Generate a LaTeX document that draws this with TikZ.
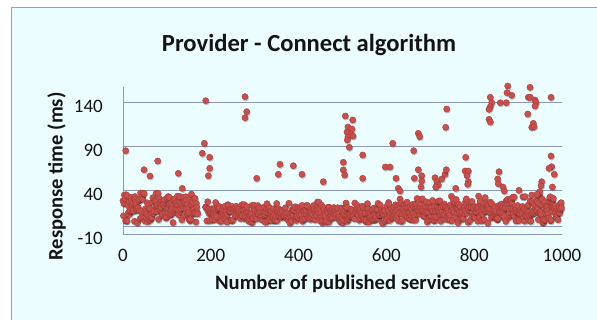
\documentclass[tikz,border=0pt]{standalone}
\usepackage{fontspec}
\setmainfont{Carlito}
\definecolor{panelc}{RGB}{236,253,255}
\definecolor{framec}{RGB}{150,160,180}
\definecolor{gridc}{RGB}{140,152,182}
\definecolor{dotfill}{RGB}{198,80,76}
\definecolor{dotedge}{RGB}{170,60,58}
\definecolor{textc}{RGB}{20,20,20}
\tikzset{
  dotmark/.style={fill=dotfill,draw=dotedge,line width=0.4pt},
  dotshadow/.style={fill=black,opacity=0.22},
  gridline/.style={draw=gridc,line width=1pt},
  ticklab/.style={font=\fontsize{19}{20}\selectfont,text=textc,inner sep=0pt},
  axtitle/.style={font=\fontsize{20.6}{22}\selectfont\bfseries,text=textc,inner sep=0pt},
}
\newcommand{\mydot}[2]{\fill[dotshadow] (#1+0.7,#2+1.3) circle (3.3pt);\filldraw[dotmark] (#1,#2) circle (3.1pt);}
\begin{document}
\begin{tikzpicture}[x=1pt,y=-1pt]
\useasboundingbox (0,0) rectangle (597,320);
\fill[white] (0,0) rectangle (597,320);
\fill[panelc] (11,7) rectangle (600,323);
\draw[framec,line width=1.5pt] (11.5,330) -- (11.5,7.5) -- (600,7.5);
% title
\node[font=\fontsize{24.6}{26}\selectfont\bfseries,text=textc,anchor=base,inner sep=0pt] (title) at (309,52) {Provider - Connect algorithm};
% grid
\foreach \g in {103,147,191,235}{\draw[gridline] (123,\g) -- (562,\g);}
\draw[gridline] (123,87) -- (123,235);
\draw[gridline] (123,226.2) -- (562,226.2);
% y tick labels
\node[ticklab,anchor=east] (y140) at (103,106) {140};
\node[ticklab,anchor=east] (y90) at (103,150) {90};
\node[ticklab,anchor=east] (y40) at (103,194) {40};
\node[ticklab,anchor=east] (ym10) at (103,238) {-10};
% x tick labels
\foreach \v [count=\k] in {0,200,400,600,800,1000}{
  \node[ticklab,anchor=base] (x\k) at ({123+0.439*\v},261.7) {\v};
}
% axis titles
\node[axtitle,anchor=base] (xtitle) at (342,289.3) {Number of published services};
\node[axtitle,anchor=base,rotate=90] (ytitle) at (62.7,176.5) {Response time (ms)};
% bulk data
\pgfmathsetseed{4711}
\foreach \i in {0,...,170}{
  \pgfmathsetmacro\yy{3+41*(0.75*rnd+0.25*rnd*rnd)}
  \pgfmathsetmacro\px{123+0.439*\i}
  \pgfmathsetmacro\py{226.2-0.88*\yy}
  \mydot{\px}{\py}
}
\foreach \i in {188,...,619}{
  \pgfmathsetmacro\yy{3+30*(0.55*rnd+0.45*rnd*rnd)}
  \pgfmathsetmacro\px{123+0.439*\i}
  \pgfmathsetmacro\py{226.2-0.88*\yy}
  \mydot{\px}{\py}
}
\foreach \i in {620,...,999}{
  \pgfmathsetmacro\yy{3+38*(0.55*rnd+0.45*rnd*rnd)}
  \pgfmathsetmacro\px{123+0.439*\i}
  \pgfmathsetmacro\py{226.2-0.88*\yy}
  \mydot{\px}{\py}
}
% outliers
\foreach \a/\b in {205.7/100.7,245/96.7,246.7/111.7,245/117.7,204.3/143.3,125.7/150.7,202.3/153.3,209.7/157.3,157.7/161,
345.3/116,352.7/120,348/127,352/129,347/132,351/134,348/137,353/136,347.3/140,349.3/147.3,362.7/155,392.7/143.3,
507.7/86,530/87.3,507/92.7,511.7/95.3,490.3/97.3,491.7/102.7,490.3/106.7,489/109.3,500.3/102.7,506.3/102.7,528.3/97.3,530.3/97.3,535/100,536/102.7,535/106,551/97.3,527.7/114,533.3/123.3,531.7/127.3,534/126.7,489/119.3,490.3/122,446.7/109,445.7/127.3,418.3/133.3,419.7/136.7,413.7/150.7,465.7/157.3,551/156,
144/169.7,150/176,178.3/173.3,209.7/168.3,208.3/175.7,256.7/178.3,
280/164.3,278.3/174.3,293.3/165.7,302/174.3,323.3/181.7,343.3/162.3,343.3/170,344.7/175,362.7/178.3,385.3/167,390/167,396/178.3,398.3/188.3,400/191,
551.7/166.7,549/168.3,554.3/174.3,418.3/169.7,414.3/178.3,421.7/175.7,421.7/181,421/187,435/177.7,437/181.7,438.3/185,435.7/187,441.7/179,445/174.3,446.3/169.7,465/171,468.3/171,467/175.7,468.3/181.7,467.7/184.3,455.7/188.3,499/171.7,497.7/179,498.3/183.7,503/187,504.3/191,519/190.3,541.7/181.7,541/185.7,539.7/191.7,537/194.3,552.3/187,553.3/198.3}{
  \mydot{\a}{\b}
}
\end{tikzpicture}
\end{document}
